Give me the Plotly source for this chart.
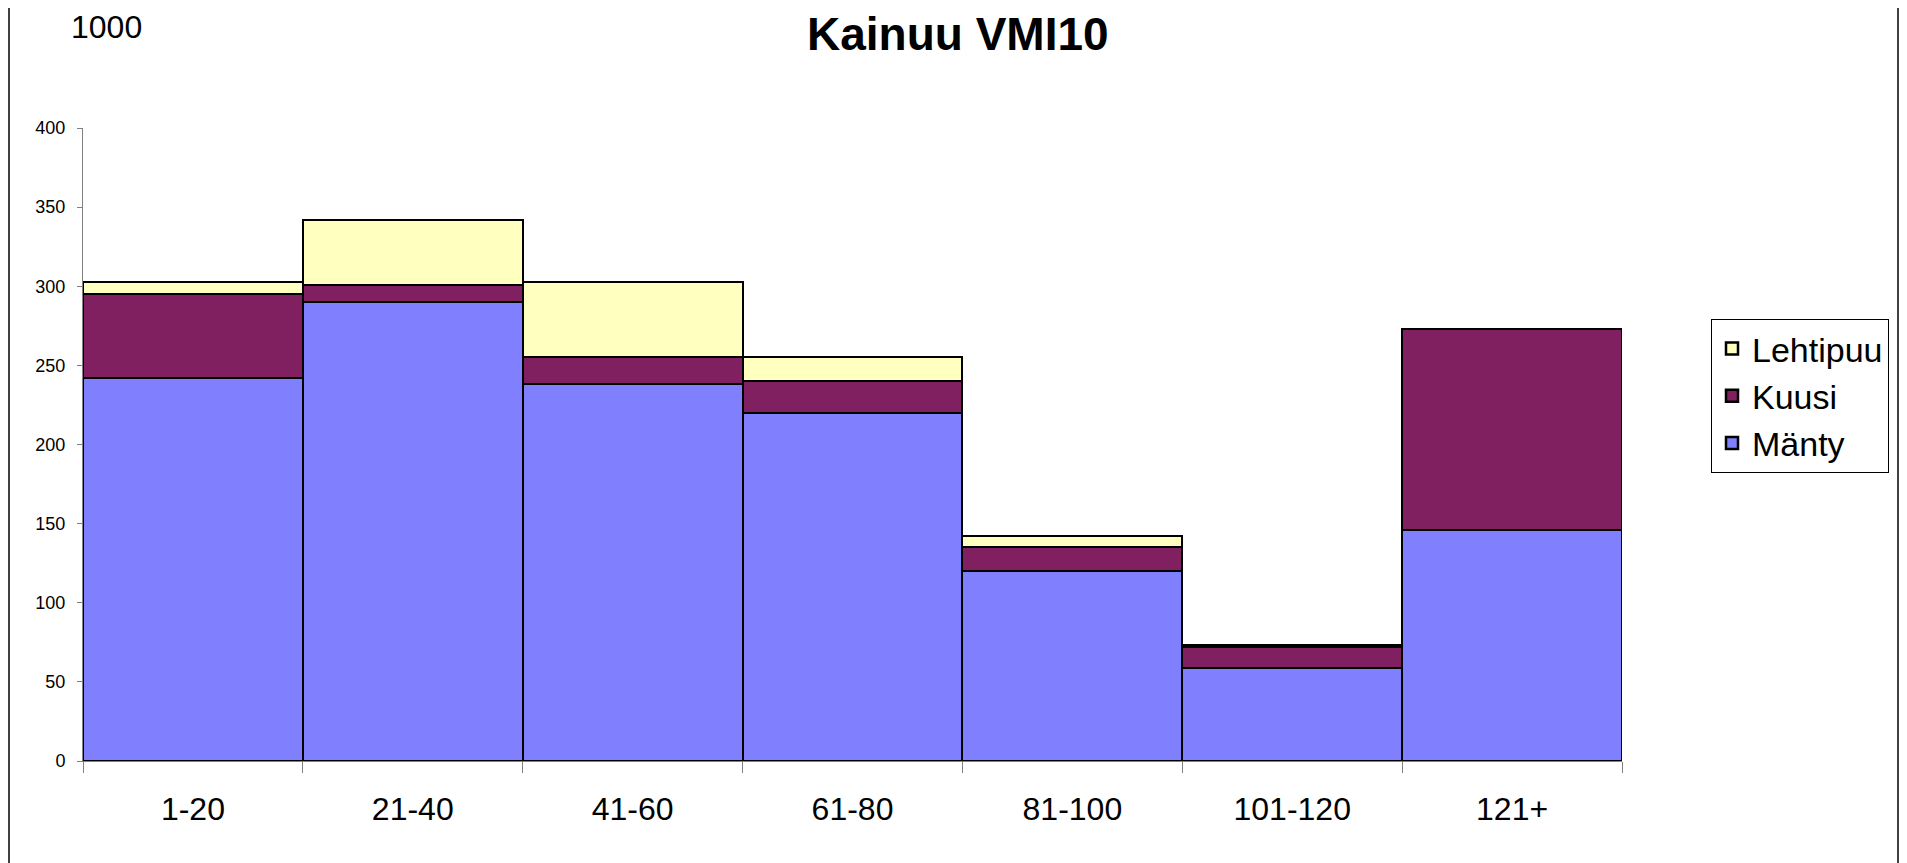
import plotly.graph_objects as go

# ---- data (1000 ha per age class) ----
age_classes = ["1-20", "21-40", "41-60", "61-80", "81-100", "101-120", "121+"]
manty = [242, 290, 238, 220, 120, 59, 146]
kuusi = [53, 11, 17, 20, 15, 13, 127]
lehtipuu = [8, 41, 48, 15, 7, 1.5, 0]

y_ticks = [0, 50, 100, 150, 200, 250, 300, 350, 400]

# ---- geometry helpers (page pixels -> paper); page body has an 8px offset ----
OFF = 8
W, H = 1907 - OFF, 863 - OFF
L, R, T, B = 83 - OFF, 1622 - OFF, 128 - OFF, 761 - OFF   # plot area in figure pixels
def px(x):
    return (x - OFF - L) / (R - L)
def py(y):
    return (B - (y - OFF)) / (B - T)

FONT = "Liberation Sans, Arial, sans-serif"
LW = 2.5

fig = go.Figure()
fig.add_trace(go.Bar(x=age_classes, y=manty, name="Mänty", legendgroup="m",
                     marker=dict(color="#8080FF", line=dict(color="black", width=LW))))
fig.add_trace(go.Bar(x=age_classes, y=kuusi, name="Kuusi", legendgroup="k",
                     marker=dict(color="#802060", line=dict(color="black", width=LW))))
fig.add_trace(go.Bar(x=age_classes, y=lehtipuu, name="Lehtipuu", legendgroup="l",
                     marker=dict(color="#FFFFC0", line=dict(color="black", width=LW))))

fig.update_layout(
    width=W, height=H,
    barmode="stack", bargap=0,
    plot_bgcolor="white", paper_bgcolor="white",
    margin=dict(l=L, r=W - R, t=T, b=H - B, pad=0),
    font=dict(family=FONT, color="black"),
    showlegend=True,
    legend=dict(
        x=px(1711), y=py(319), xanchor="left", yanchor="top",
        traceorder="reversed", tracegroupgap=21,
        font=dict(size=34, family=FONT, color="black"),
        bordercolor="black", borderwidth=1, bgcolor="white",
    ),
)

fig.update_xaxes(
    type="category", showline=True, linecolor="#808080", linewidth=1,
    ticks="outside", tickson="boundaries", ticklen=11, tickcolor="#808080",
    tickfont=dict(size=32, family=FONT, color="black"),
    showgrid=False, zeroline=False, ticklabelstandoff=20,
)
fig.update_yaxes(
    range=[0, 400], tickvals=y_ticks, ticktext=[str(v) for v in y_ticks],
    showline=True, linecolor="#808080", linewidth=1,
    ticks="outside", ticklen=5, tickcolor="#808080",
    tickfont=dict(size=18, family=FONT, color="black"),
    showgrid=False, zeroline=False, ticklabelstandoff=8,
)

# title and unit label
fig.add_annotation(text="<b>Kainuu VMI10</b>", x=px(958), y=py(34), xref="paper", yref="paper",
                   xanchor="center", yanchor="middle", showarrow=False,
                   font=dict(size=46, family=FONT, color="black"))
fig.add_annotation(text="1000", x=px(69), y=py(27), xref="paper", yref="paper",
                   xanchor="left", yanchor="middle", showarrow=False,
                   font=dict(size=32, family=FONT, color="black"))

# outer chart frame (left and right edges visible)
fig.add_shape(type="rect", xref="paper", yref="paper",
              x0=px(9), x1=px(1898), y0=py(880), y1=py(-10),
              line=dict(color="#404040", width=2), fillcolor="rgba(0,0,0,0)", layer="below")

fig.write_html("out.html")
